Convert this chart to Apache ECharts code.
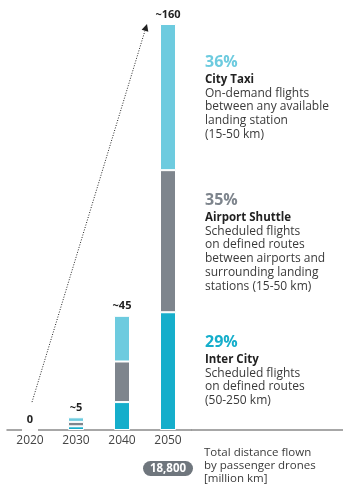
<!DOCTYPE html>
<html>
<head>
<meta charset="utf-8">
<script src="https://cdn.jsdelivr.net/npm/echarts@6/dist/echarts.min.js"></script>
<style>
  html, body { margin: 0; padding: 0; background: #ffffff; }
  #chart { width: 343px; height: 486px; }
</style>
</head>
<body>
<div id="chart"></div>
<script>
// Passenger-drone distance flown per year, split by use case [million km]
const years = ['2020', '2030', '2040', '2050'];
const interCity = [0, 1.45, 11, 46.4];
const airportShuttle = [0, 1.75, 16, 56];
const cityTaxi = [0, 1.8, 18, 57.6];
const totalLabels = ['0', '~5', '~45', '~160'];

// Shares of the 2050 total, top segment first
const shares = ['36%', '35%', '29%'];
const segmentNames = ['City Taxi', 'Airport Shuttle', 'Inter City'];
const segmentNotes = [
  ['On-demand flights', 'between any available', 'landing station', '(15-50 km)'],
  ['Scheduled flights', 'on defined routes', 'between airports and', 'surrounding landing', 'stations (15-50 km)'],
  ['Scheduled flights', 'on defined routes', '(50-250 km)']
];
const cumulativeTotal = '18,800';
const cumulativeNote = ['Total distance flown', 'by passenger drones', '[million km]'];

const FONT = 'Open Sans';
const COLORS = { taxi: '#6DCBDF', shuttle: '#7E858D', inter: '#15AECB' };
const segmentColors = [COLORS.taxi, COLORS.shuttle, COLORS.inter];
const TEXT = '#3a3a3a';

const chart = echarts.init(document.getElementById('chart'), null, { renderer: 'canvas' });

const GRID = { left: 7, top: 24, width: 184, bottom: 56 };

function barSeries(name, data, color, withLabel) {
  return {
    name: name,
    type: 'bar',
    stack: 'total',
    data: data,
    barWidth: 16,
    itemStyle: { color: color, borderColor: '#ffffff', borderWidth: 1 },
    label: withLabel ? {
      show: true,
      position: 'top',
      distance: 4,
      fontFamily: FONT,
      fontSize: 11,
      fontWeight: 'bold',
      color: '#222',
      formatter: p => totalLabels[p.dataIndex]
    } : { show: false },
    emphasis: { disabled: true },
    animation: false
  };
}

chart.setOption({
  animation: false,
  grid: GRID,
  xAxis: {
    type: 'category',
    data: years,
    axisTick: { show: false },
    axisLine: { lineStyle: { color: '#8a8a8a', width: 1.5 } },
    axisLabel: { color: '#444', fontSize: 12, fontFamily: FONT, margin: 5 }
  },
  yAxis: {
    type: 'value',
    min: 0,
    max: 160,
    show: false,
    splitLine: { show: false }
  },
  series: [
    barSeries('Inter City', interCity, COLORS.inter, false),
    barSeries('Airport Shuttle', airportShuttle, COLORS.shuttle, false),
    barSeries('City Taxi', cityTaxi, COLORS.taxi, true)
  ]
});

// Annotations positioned from the axes
const px = (cat, v) => chart.convertToPixel({ gridIndex: 0 }, [cat, v]);
const base = px(years[0], 0);
const start = px(years[0], 11);
const peak = px(years[3], 160);
const arrowStart = [start[0] + 2, start[1]];
const arrowTip = [peak[0] - 21, peak[1]];
const dx = arrowTip[0] - arrowStart[0], dy = arrowTip[1] - arrowStart[1];
const len = Math.sqrt(dx * dx + dy * dy);
const ux = dx / len, uy = dy / len;
const headLen = 7, headHalf = 3.5;
const headBase = [arrowTip[0] - ux * headLen, arrowTip[1] - uy * headLen];
const nx = -uy, ny = ux;

const graphics = [
  // baseline continues under the descriptions
  {
    type: 'line',
    shape: { x1: GRID.left + GRID.width, y1: base[1], x2: 343, y2: base[1] },
    style: { stroke: '#8a8a8a', lineWidth: 1.5 },
    silent: true
  },
  // growth arrow
  {
    type: 'line',
    shape: { x1: arrowStart[0], y1: arrowStart[1], x2: headBase[0], y2: headBase[1] },
    style: { stroke: '#222', lineWidth: 1, lineDash: [1, 1.6] },
    silent: true
  },
  {
    type: 'polygon',
    shape: {
      points: [
        arrowTip,
        [headBase[0] + nx * headHalf, headBase[1] + ny * headHalf],
        [headBase[0] - nx * headHalf, headBase[1] - ny * headHalf]
      ]
    },
    style: { fill: '#222' },
    silent: true
  }
];

// Segment descriptions
const blockTops = [52.5, 190.5, 332.5];
segmentNames.forEach((name, i) => {
  const lines = ['{p|' + shares[i] + '}', '{n|' + name + '}']
    .concat(segmentNotes[i].map(t => '{d|' + t + '}'));
  graphics.push({
    type: 'text',
    x: 205,
    y: blockTops[i],
    silent: true,
    style: {
      text: lines.join('\n'),
      font: '12px "' + FONT + '"',
      rich: {
        p: { fontSize: 16, fontWeight: 'bold', fill: segmentColors[i], lineHeight: 20, fontFamily: FONT },
        n: { fontSize: 11.5, fontWeight: 'bold', fill: '#222', lineHeight: 14, fontFamily: FONT },
        d: { fontSize: 12, fill: TEXT, lineHeight: 13.7, fontFamily: FONT }
      }
    }
  });
});

// Cumulative total pill and note
const pillX = px(years[3], 0)[0];
graphics.push({
  type: 'rect',
  shape: { x: pillX - 25, y: 461, width: 50, height: 15, r: 7.5 },
  style: { fill: '#6F767D' },
  silent: true
});
graphics.push({
  type: 'text',
  x: pillX,
  y: 468.5,
  silent: true,
  style: {
    text: cumulativeTotal,
    fontFamily: FONT,
    fontSize: 11.5,
    fontWeight: 'bold',
    fill: '#ffffff',
    align: 'center',
    verticalAlign: 'middle'
  }
});
graphics.push({
  type: 'text',
  x: 204,
  y: 446.5,
  silent: true,
  style: {
    text: cumulativeNote.join('\n'),
    fontFamily: FONT,
    fontSize: 11.5,
    lineHeight: 13,
    fill: TEXT
  }
});

chart.setOption({ graphic: graphics });
</script>
</body>
</html>
